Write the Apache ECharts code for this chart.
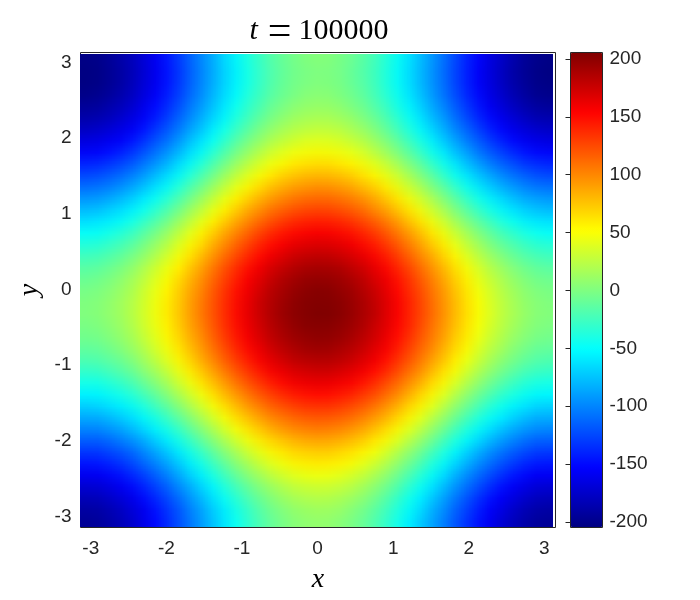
<!DOCTYPE html>
<html>
<head>
<meta charset="utf-8">
<title>t = 100000</title>
<script src="https://cdn.jsdelivr.net/npm/echarts@6/dist/echarts.min.js"></script>
<style>
  html, body { margin: 0; padding: 0; background: #fff; }
  #wrap { position: relative; width: 700px; height: 600px; overflow: hidden; }
  #chart { width: 700px; height: 600px; }
  /* one pixel per cell, the browser smooths it when scaled up to the 473px image */
  #heat { position: absolute; left: 80px; top: 54px; width: 41px; height: 41px; transform: scale(11.5366); transform-origin: 0 0; }
</style>
</head>
<body>
<div id="wrap">
  <div id="chart"></div>
  <div id="heat"></div>
</div>
<script>
var xTicks = [-3, -2, -1, 0, 1, 2, 3];
var yTicks = [-3, -2, -1, 0, 1, 2, 3];
var colorTicks = [-200, -150, -100, -50, 0, 50, 100, 150, 200];
var jetColors = ['#000080', '#0000ff', '#0080ff', '#00ffff', '#80ff80', '#ffff00', '#ff8000', '#ff0000', '#800000'];

// cell centres, estimated grid over the picture
var xCenters = [-3.06,-2.91,-2.76,-2.60,-2.45,-2.30,-2.15,-1.99,-1.84,-1.69,-1.54,-1.39,-1.23,-1.08,-0.93,-0.78,-0.62,-0.47,-0.32,-0.17,-0.01,0.14,0.29,0.44,0.60,0.75,0.90,1.05,1.20,1.36,1.51,1.66,1.81,1.96,2.12,2.27,2.42,2.57,2.72,2.88,3.03];
var yCenters = [3.04,2.88,2.73,2.58,2.43,2.27,2.12,1.97,1.81,1.66,1.51,1.36,1.20,1.05,0.90,0.75,0.59,0.44,0.29,0.14,-0.02,-0.17,-0.32,-0.47,-0.63,-0.78,-0.93,-1.08,-1.24,-1.39,-1.54,-1.69,-1.85,-2.00,-2.15,-2.30,-2.46,-2.61,-2.76,-2.91,-3.07];

// values estimated by hand from the colours and contours, top row first
var zRows = [
[-202,-201,-196,-190,-182,-171,-159,-146,-132,-116,-101,-85,-70,-55,-42,-30,-19,-11,-4,0,2,2,-1,-6,-13,-22,-33,-46,-60,-74,-90,-105,-121,-136,-150,-163,-174,-184,-192,-198,-201],
[-204,-203,-198,-192,-184,-173,-161,-148,-134,-118,-103,-87,-72,-57,-44,-32,-21,-13,-6,-2,0,0,-3,-8,-15,-24,-35,-48,-62,-76,-92,-107,-123,-138,-152,-165,-176,-186,-194,-200,-203],
[-204,-203,-198,-192,-184,-173,-161,-148,-134,-118,-103,-87,-72,-57,-44,-32,-21,-13,-6,-2,0,0,-3,-8,-15,-24,-35,-48,-62,-76,-92,-107,-123,-138,-152,-165,-176,-186,-194,-200,-203],
[-202,-201,-196,-190,-182,-171,-159,-146,-132,-116,-101,-85,-70,-55,-42,-30,-19,-11,-4,0,2,2,-1,-6,-13,-22,-33,-46,-60,-74,-90,-105,-121,-136,-150,-163,-174,-184,-192,-198,-201],
[-197,-196,-191,-185,-177,-166,-154,-141,-127,-111,-96,-80,-65,-50,-37,-25,-14,-6,1,5,7,7,4,-1,-8,-17,-28,-41,-55,-69,-85,-100,-116,-131,-145,-158,-169,-179,-187,-193,-196],
[-190,-189,-184,-178,-170,-159,-147,-134,-120,-104,-89,-73,-58,-43,-30,-18,-7,1,8,12,14,14,11,6,-1,-10,-21,-34,-48,-62,-78,-93,-109,-124,-138,-151,-162,-172,-180,-186,-189],
[-181,-180,-175,-169,-161,-150,-138,-125,-111,-95,-80,-64,-49,-34,-21,-9,2,10,17,21,23,23,20,15,8,-1,-12,-25,-39,-53,-69,-84,-100,-115,-129,-142,-153,-163,-171,-177,-180],
[-170,-169,-164,-158,-150,-139,-127,-114,-100,-84,-69,-53,-38,-23,-10,2,13,21,28,32,34,34,31,26,19,10,-1,-14,-28,-42,-58,-73,-89,-104,-118,-131,-142,-152,-160,-166,-169],
[-158,-157,-152,-146,-138,-127,-115,-102,-88,-72,-57,-41,-26,-11,2,14,25,33,40,44,46,46,43,38,31,22,11,-2,-16,-30,-46,-61,-77,-92,-106,-119,-130,-140,-148,-154,-157],
[-144,-143,-138,-132,-124,-113,-101,-88,-74,-58,-43,-27,-12,3,16,28,39,47,54,58,60,60,57,52,45,36,25,12,-2,-16,-32,-47,-63,-78,-92,-105,-116,-126,-134,-140,-143],
[-129,-128,-123,-117,-109,-98,-86,-73,-59,-43,-28,-12,3,18,31,43,54,62,69,73,75,75,72,67,60,51,40,27,13,-1,-17,-32,-48,-63,-77,-90,-101,-111,-119,-125,-128],
[-114,-113,-108,-102,-94,-83,-71,-58,-44,-28,-13,3,18,33,46,58,69,77,84,88,90,90,87,82,75,66,55,42,28,14,-2,-17,-33,-48,-62,-75,-86,-96,-104,-110,-113],
[-98,-97,-92,-86,-78,-67,-55,-42,-28,-12,3,19,34,49,62,74,85,93,100,104,106,106,103,98,91,82,71,58,44,30,14,-1,-17,-32,-46,-59,-70,-80,-88,-94,-97],
[-83,-82,-77,-71,-63,-52,-40,-27,-13,3,18,34,49,64,77,89,100,108,115,119,121,121,118,113,106,97,86,73,59,45,29,14,-2,-17,-31,-44,-55,-65,-73,-79,-82],
[-68,-67,-62,-56,-48,-37,-25,-12,2,18,33,49,64,79,92,104,115,123,130,134,136,136,133,128,121,112,101,88,74,60,44,29,13,-2,-16,-29,-40,-50,-58,-64,-67],
[-53,-52,-47,-41,-33,-22,-10,3,17,33,48,64,79,94,107,119,130,138,145,149,151,151,148,143,136,127,116,103,89,75,59,44,28,13,-1,-14,-25,-35,-43,-49,-52],
[-40,-39,-34,-28,-20,-9,3,16,30,46,61,77,92,107,120,132,143,151,158,162,164,164,161,156,149,140,129,116,102,88,72,57,41,26,12,-1,-12,-22,-30,-36,-39],
[-29,-28,-23,-17,-9,2,14,27,41,57,72,88,103,118,131,143,154,162,169,173,175,175,172,167,160,151,140,127,113,99,83,68,52,37,23,10,-1,-11,-19,-25,-28],
[-18,-17,-12,-6,2,13,25,38,52,68,83,99,114,129,142,154,165,173,180,184,186,186,183,178,171,162,151,138,124,110,94,79,63,48,34,21,10,0,-8,-14,-17],
[-10,-9,-4,2,10,21,33,46,60,76,91,107,122,137,150,162,173,181,188,192,194,194,191,186,179,170,159,146,132,118,102,87,71,56,42,29,18,8,0,-6,-9],
[-4,-3,2,8,16,27,39,52,66,82,97,113,128,143,156,168,179,187,194,198,200,200,197,192,185,176,165,152,138,124,108,93,77,62,48,35,24,14,6,0,-3],
[-1,0,5,11,19,30,42,55,69,85,100,116,131,146,159,171,182,190,197,201,203,203,200,195,188,179,168,155,141,127,111,96,80,65,51,38,27,17,9,3,0],
[1,2,7,13,21,32,44,57,71,87,102,118,133,148,161,173,184,192,199,203,205,205,202,197,190,181,170,157,143,129,113,98,82,67,53,40,29,19,11,5,2],
[-1,0,5,11,19,30,42,55,69,85,100,116,131,146,159,171,182,190,197,201,203,203,200,195,188,179,168,155,141,127,111,96,80,65,51,38,27,17,9,3,0],
[-4,-3,2,8,16,27,39,52,66,82,97,113,128,143,156,168,179,187,194,198,200,200,197,192,185,176,165,152,138,124,108,93,77,62,48,35,24,14,6,0,-3],
[-10,-9,-4,2,10,21,33,46,60,76,91,107,122,137,150,162,173,181,188,192,194,194,191,186,179,170,159,146,132,118,102,87,71,56,42,29,18,8,0,-6,-9],
[-17,-16,-11,-5,3,14,26,39,53,69,84,100,115,130,143,155,166,174,181,185,187,187,184,179,172,163,152,139,125,111,95,80,64,49,35,22,11,1,-7,-13,-16],
[-27,-26,-21,-15,-7,4,16,29,43,59,74,90,105,120,133,145,156,164,171,175,177,177,174,169,162,153,142,129,115,101,85,70,54,39,25,12,1,-9,-17,-23,-26],
[-39,-38,-33,-27,-19,-8,4,17,31,47,62,78,93,108,121,133,144,152,159,163,165,165,162,157,150,141,130,117,103,89,73,58,42,27,13,0,-11,-21,-29,-35,-38],
[-52,-51,-46,-40,-32,-21,-9,4,18,34,49,65,80,95,108,120,131,139,146,150,152,152,149,144,137,128,117,104,90,76,60,45,29,14,0,-13,-24,-34,-42,-48,-51],
[-66,-65,-60,-54,-46,-35,-23,-10,4,20,35,51,66,81,94,106,117,125,132,136,138,138,135,130,123,114,103,90,76,62,46,31,15,0,-14,-27,-38,-48,-56,-62,-65],
[-81,-80,-75,-69,-61,-50,-38,-25,-11,5,20,36,51,66,79,91,102,110,117,121,123,123,120,115,108,99,88,75,61,47,31,16,0,-15,-29,-42,-53,-63,-71,-77,-80],
[-96,-95,-90,-84,-76,-65,-53,-40,-26,-10,5,21,36,51,64,76,87,95,102,106,108,108,105,100,93,84,73,60,46,32,16,1,-15,-30,-44,-57,-68,-78,-86,-92,-95],
[-112,-111,-106,-100,-92,-81,-69,-56,-42,-26,-11,5,20,35,48,60,71,79,86,90,92,92,89,84,77,68,57,44,30,16,0,-15,-31,-46,-60,-73,-84,-94,-102,-108,-111],
[-128,-127,-122,-116,-108,-97,-85,-72,-58,-42,-27,-11,4,19,32,44,55,63,70,74,76,76,73,68,61,52,41,28,14,0,-16,-31,-47,-62,-76,-89,-100,-110,-118,-124,-127],
[-142,-141,-136,-130,-122,-111,-99,-86,-72,-56,-41,-25,-10,5,18,30,41,49,56,60,62,62,59,54,47,38,27,14,0,-14,-30,-45,-61,-76,-90,-103,-114,-124,-132,-138,-141],
[-156,-155,-150,-144,-136,-125,-113,-100,-86,-70,-55,-39,-24,-9,4,16,27,35,42,46,48,48,45,40,33,24,13,0,-14,-28,-44,-59,-75,-90,-104,-117,-128,-138,-146,-152,-155],
[-169,-168,-163,-157,-149,-138,-126,-113,-99,-83,-68,-52,-37,-22,-9,3,14,22,29,33,35,35,32,27,20,11,0,-13,-27,-41,-57,-72,-88,-103,-117,-130,-141,-151,-159,-165,-168],
[-180,-179,-174,-168,-160,-149,-137,-124,-110,-94,-79,-63,-48,-33,-20,-8,3,11,18,22,24,24,21,16,9,0,-11,-24,-38,-52,-68,-83,-99,-114,-128,-141,-152,-162,-170,-176,-179],
[-189,-188,-183,-177,-169,-158,-146,-133,-119,-103,-88,-72,-57,-42,-29,-17,-6,2,9,13,15,15,12,7,0,-9,-20,-33,-47,-61,-77,-92,-108,-123,-137,-150,-161,-171,-179,-185,-188],
[-196,-195,-190,-184,-176,-165,-153,-140,-126,-110,-95,-79,-64,-49,-36,-24,-13,-5,2,6,8,8,5,0,-7,-16,-27,-40,-54,-68,-84,-99,-115,-130,-144,-157,-168,-178,-186,-192,-195]
];

var heatData = [];
for (var r = 0; r < zRows.length; r++) {
  for (var c = 0; c < zRows[r].length; c++) {
    heatData.push([c, r, zRows[r][c]]);
  }
}

var inkColor = '#262626';
var tickFont = { color: inkColor, fontFamily: 'Liberation Sans', fontSize: 19, padding: [4, 0, 0, 0] };
var nameFont = { color: '#000', fontFamily: 'Liberation Serif', fontStyle: 'italic', fontSize: 28 };
var numText = function (v) { return String(v); };

// the image
var heatChart = echarts.init(document.getElementById('heat'), null, { width: 41, height: 41, devicePixelRatio: 1 });
heatChart.setOption({
  animation: false,
  grid: { left: 0, right: 0, top: 0, bottom: 0 },
  xAxis: { type: 'category', data: xCenters, show: false },
  yAxis: { type: 'category', data: yCenters, inverse: true, show: false },
  visualMap: { show: false, min: -205, max: 205, inRange: { color: jetColors } },
  series: [{
    type: 'heatmap',
    data: heatData,
    silent: true,
    itemStyle: { borderWidth: 0 },
    emphasis: { disabled: true },
    label: { show: false }
  }]
});

// frame, axes, colorbar, texts
var myChart = echarts.init(document.getElementById('chart'));
myChart.setOption({
  animation: false,
  title: {
    left: 314,
    top: 3,
    textAlign: 'center',
    text: '{i|t}{e|=}{r|100000}',
    textStyle: {
      fontWeight: 'normal',
      rich: {
        i: { fontFamily: 'Liberation Serif', fontStyle: 'italic', fontWeight: 'normal', fontSize: 30, color: '#000' },
        e: { fontFamily: 'Liberation Serif', fontWeight: 'normal', fontSize: 42, color: '#000', padding: [4, 7, 0, 10] },
        r: { fontFamily: 'Liberation Serif', fontWeight: 'normal', fontSize: 30, color: '#000' }
      }
    }
  },
  grid: [
    { left: 80.5, top: 52.5, width: 475, height: 475, show: true, borderColor: inkColor, borderWidth: 1, backgroundColor: 'transparent', z: 0 },
    { left: 570.5, top: 52.5, width: 32, height: 475, show: true, borderColor: inkColor, borderWidth: 1, backgroundColor: 'transparent', z: 6 }
  ],
  xAxis: [
    {
      type: 'value', gridIndex: 0, position: 'bottom', min: -3.136, max: 3.147,
      name: 'x', nameLocation: 'middle', nameGap: 38, nameTextStyle: nameFont,
      splitLine: { show: false }, axisLine: { show: false },
      axisTick: { inside: true, length: 5, lineStyle: { color: inkColor }, customValues: xTicks },
      axisLabel: Object.assign({ margin: 8, customValues: xTicks, formatter: numText }, tickFont)
    },
    {
      type: 'value', gridIndex: 0, position: 'top', min: -3.136, max: 3.147,
      splitLine: { show: false }, axisLine: { show: false }, axisLabel: { show: false },
      axisTick: { inside: true, length: 5, lineStyle: { color: inkColor }, customValues: xTicks }
    },
    { type: 'value', gridIndex: 1, min: 0, max: 1, show: false }
  ],
  yAxis: [
    {
      type: 'value', gridIndex: 0, position: 'left', min: -3.144, max: 3.133,
      name: 'y', nameLocation: 'middle', nameGap: 34, nameTextStyle: nameFont,
      splitLine: { show: false }, axisLine: { show: false },
      axisTick: { inside: true, length: 5, lineStyle: { color: inkColor }, customValues: yTicks },
      axisLabel: Object.assign({ margin: 9, customValues: yTicks, formatter: numText }, tickFont)
    },
    {
      type: 'value', gridIndex: 0, position: 'right', min: -3.144, max: 3.133,
      splitLine: { show: false }, axisLine: { show: false }, axisLabel: { show: false },
      axisTick: { inside: true, length: 5, lineStyle: { color: inkColor }, customValues: yTicks }
    },
    {
      type: 'value', gridIndex: 1, position: 'right', min: -204.8, max: 205.6, z: 6,
      splitLine: { show: false }, axisLine: { show: false },
      axisTick: { inside: true, length: 5, lineStyle: { color: inkColor }, customValues: colorTicks },
      axisLabel: Object.assign({ margin: 7, customValues: colorTicks, formatter: numText }, tickFont)
    }
  ],
  visualMap: {
    type: 'continuous',
    min: -205,
    max: 205,
    seriesIndex: [],
    calculable: false,
    realtime: false,
    hoverLink: false,
    silent: true,
    left: 570.5,
    top: 52.5,
    padding: 0,
    itemWidth: 32,
    itemHeight: 475,
    text: ['', ''],
    showLabel: false,
    z: 1,
    inRange: { color: jetColors }
  },
  series: []
});
</script>
</body>
</html>
